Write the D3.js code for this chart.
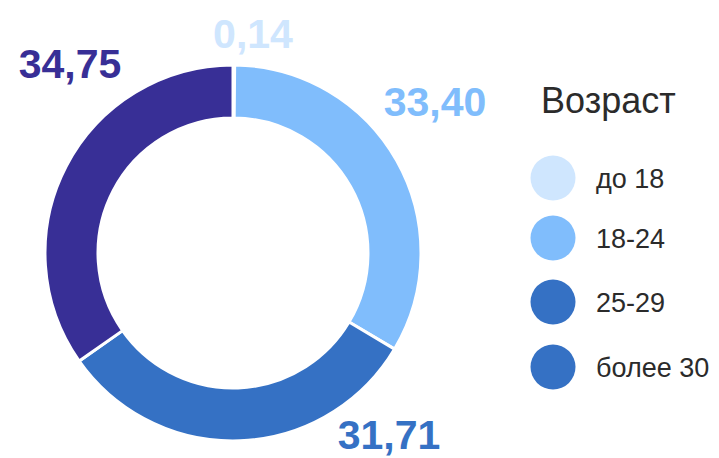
<!DOCTYPE html>
<html><head><meta charset="utf-8">
<script src="https://cdn.jsdelivr.net/npm/d3@7"></script>
<style>body{margin:0;background:#fff}svg{display:block}</style>
</head><body>
<svg id="c" width="719" height="458"></svg>
<script>
const categories = ["до 18", "18-24", "25-29", "более 30"];
const values = [0.14, 33.40, 31.71, 34.75];
const labels = ["0,14", "33,40", "31,71", "34,75"];
const sliceColors = ["#cfe6fe", "#80bdfc", "#3571c4", "#382f96"];
const legendColors = ["#cfe6fe", "#80bdfc", "#3571c4", "#3571c4"];
const legendTitle = "Возраст";

const svg = d3.select("#c");
const cx = 233, cy = 253, R = 188, r = 135;
const g = svg.append("g").attr("transform", `translate(${cx},${cy})`);
const pie = d3.pie().sort(null).value(d => d)(values);
const arc = d3.arc().innerRadius(r).outerRadius(R);
g.selectAll("path").data(pie).join("path")
  .attr("d", arc).attr("fill", (d, i) => sliceColors[i])
  .attr("stroke", "#fff").attr("stroke-width", 3);

const labelPos = [[253, 48], [435, 116], [389, 449], [70, 78]];
svg.selectAll("text.v").data(labels).join("text").attr("class", "v")
  .attr("x", (d, i) => labelPos[i][0]).attr("y", (d, i) => labelPos[i][1])
  .attr("text-anchor", "middle")
  .attr("font-family", "Liberation Sans, Arial, sans-serif")
  .attr("font-weight", "bold").attr("font-size", 41)
  .attr("fill", (d, i) => sliceColors[i]).text(d => d);

svg.append("text").attr("x", 541).attr("y", 113)
  .attr("font-family", "Liberation Sans, Arial, sans-serif")
  .attr("font-size", 36).attr("fill", "#2b2b2b").text(legendTitle);
const ly = [178, 238, 302, 367];
const lg = svg.selectAll("g.l").data(categories).join("g").attr("class", "l")
  .attr("transform", (d, i) => `translate(553,${ly[i]})`);
lg.append("circle").attr("r", 22.5).attr("fill", (d, i) => legendColors[i]);
lg.append("text").attr("x", 43).attr("y", 10)
  .attr("font-family", "Liberation Sans, Arial, sans-serif")
  .attr("font-size", 27).attr("fill", "#2b2b2b").text(d => d);
</script>
</body></html>
